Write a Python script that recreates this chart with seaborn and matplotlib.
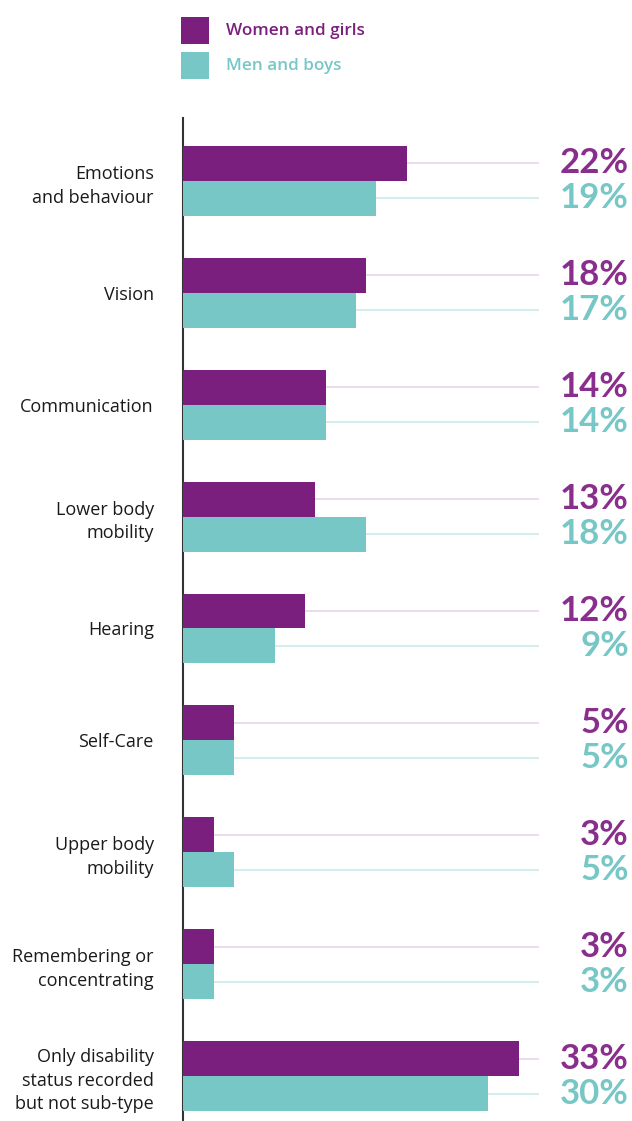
import matplotlib
matplotlib.use("Agg")
import matplotlib.pyplot as plt
import matplotlib.transforms as mtransforms
from matplotlib.patches import Rectangle
import seaborn as sns
import pandas as pd

categories = [
    "Emotions\nand behaviour",
    "Vision",
    "Communication",
    "Lower body\nmobility",
    "Hearing",
    "Self-Care",
    "Upper body\nmobility",
    "Remembering or\nconcentrating",
    "Only disability\nstatus recorded\nbut not sub-type",
]
women = [22, 18, 14, 13, 12, 5, 3, 3, 33]
men = [19, 17, 14, 18, 9, 5, 5, 3, 30]
series = ["Women and girls", "Men and boys"]

PURPLE = "#7B1F7E"
TEAL = "#76C7C6"
PURPLE_TXT = "#8A2E8D"
PURPLE_LINE = "#E8D5EA"
TEAL_LINE = "#C9EBEA"

sns.set_theme(style="white")
plt.rcParams["font.family"] = ["Open Sans", "DejaVu Sans"]

df = pd.DataFrame({
    "category": categories * 2,
    "value": women + men,
    "series": [series[0]] * len(categories) + [series[1]] * len(categories),
})

W, H = 632, 1121
fig = plt.figure(figsize=(W / 100, H / 100), dpi=100)
ax = fig.add_axes([183 / W, 0, (W - 183) / W, (H - 118) / H])

sns.barplot(data=df, y="category", x="value", hue="series", orient="h",
            palette=[PURPLE, TEAL], width=0.625, gap=0, saturation=1,
            linewidth=0, edgecolor="none",
            legend=False, ax=ax, zorder=3)

px_per_pct = 10.18
ax.set_xlim(0, (W - 183) / px_per_pct)
ax.set_ylim(8 + 45 / 112, -63 / 112)

off = 0.625 / 4
line_end = 35
for i, (w, m) in enumerate(zip(women, men)):
    ax.hlines(i - off, 0, line_end, color=PURPLE_LINE, lw=1.2, zorder=1)
    ax.hlines(i + off, 0, line_end, color=TEAL_LINE, lw=1.2, zorder=1)

trans = mtransforms.blended_transform_factory(ax.transAxes, ax.transData)
xr = (629 - 183) / (W - 183)
for i, (w, m) in enumerate(zip(women, men)):
    ax.text(xr, i - off, f"{w}%", transform=trans, ha="right", va="center",
            fontsize=25, fontweight="bold", color=PURPLE_TXT, family="Lato")
    ax.text(xr, i + off, f"{m}%", transform=trans, ha="right", va="center",
            fontsize=25, fontweight="bold", color=TEAL, family="Lato")

ax.set_xlabel("")
ax.set_ylabel("")
ax.set_xticks([])
ax.tick_params(axis="y", length=0, pad=21)
for lbl in ax.get_yticklabels():
    lbl.set_fontsize(13)
    lbl.set_color("#1a1a1a")
    lbl.set_linespacing(1.4)
    lbl.set_horizontalalignment("right")
    lbl.set_multialignment("right")

for s in ["top", "right", "bottom"]:
    ax.spines[s].set_visible(False)
ax.spines["left"].set_color("#333333")
ax.spines["left"].set_linewidth(1.5)

# legend
for (top, col, name) in [(17, PURPLE, series[0]), (52, TEAL, series[1])]:
    fig.patches.append(Rectangle((181 / W, 1 - (top + 27) / H), 28 / W, 27 / H,
                                 transform=fig.transFigure, facecolor=col,
                                 edgecolor="none"))
    fig.text(226 / W, 1 - (top + 14) / H, name, ha="left", va="center",
             fontsize=12.3, fontweight="semibold", color=col)

fig.savefig("out.png", dpi=100)
